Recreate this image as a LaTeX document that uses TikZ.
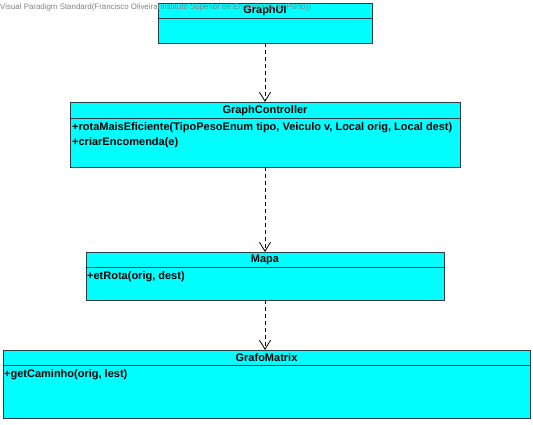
\documentclass[tikz,border=0pt]{standalone}
\usepackage{fontspec}
\setmainfont{Liberation Sans}
\usetikzlibrary{arrows.meta}
\definecolor{umlfill}{RGB}{0,255,255}
\definecolor{umlborder}{RGB}{45,60,70}
\definecolor{wmgray}{RGB}{130,130,130}
\begin{document}
\begin{tikzpicture}[x=1pt,y=-1pt,
  cls/.style={draw=umlborder, fill=umlfill, line width=1pt, anchor=north west, inner sep=0pt, outer sep=0pt},
  sep/.style={draw=umlborder, line width=1pt},
  title/.style={font=\fontsize{11}{13}\selectfont\bfseries, inner sep=0pt, anchor=center},
  meth/.style={font=\fontsize{11}{15}\selectfont\bfseries, inner sep=0pt, anchor=west, align=left},
  dep/.style={draw=black, line width=0.8pt, dash pattern=on 4pt off 3pt, -{Straight Barb[length=9pt,width=11pt,line width=0.8pt]}},
  wm/.style={font=\fontsize{7.9}{9}\selectfont, text=wmgray, inner sep=0pt, anchor=west}
]
\useasboundingbox (0,0) rectangle (533,424);
% classes
\node[cls, minimum width=214pt, minimum height=40pt] (ui) at (158,3) {};
\draw[sep] ([yshift=-15pt]ui.north west) -- ([yshift=-15pt]ui.north east);
\node[title] (uit) at ([yshift=-8pt]ui.north) {GraphUI};

\node[cls, minimum width=390pt, minimum height=65pt] (gc) at (70,102) {};
\draw[sep] ([yshift=-16pt]gc.north west) -- ([yshift=-16pt]gc.north east);
\node[title] (gct) at ([yshift=-8.5pt]gc.north) {GraphController};
\node[meth] (gcm1) at ([xshift=2pt,yshift=-26pt]gc.north west) {+rotaMaisEficiente(TipoPesoEnum tipo, Veiculo v, Local orig, Local dest)};
\node[meth] (gcm2) at ([xshift=2pt,yshift=-41pt]gc.north west) {+criarEncomenda(e)};

\node[cls, minimum width=358pt, minimum height=48pt] (mp) at (86,252) {};
\draw[sep] ([yshift=-15pt]mp.north west) -- ([yshift=-15pt]mp.north east);
\node[title] (mpt) at ([yshift=-8pt]mp.north) {Mapa};
\node[meth] (mpm) at ([xshift=1pt,yshift=-24.5pt]mp.north west) {+etRota(orig, dest)};

\node[cls, minimum width=527pt, minimum height=68pt] (gm) at (3,350) {};
\draw[sep] ([yshift=-15pt]gm.north west) -- ([yshift=-15pt]gm.north east);
\node[title] (gmt) at ([yshift=-8pt]gm.north) {GrafoMatrix};
\node[meth] (gmm) at ([xshift=1pt,yshift=-25pt]gm.north west) {+getCaminho(orig, lest)};

% dependencies
\draw[dep] (ui.south) -- (gc.north);
\draw[dep] (gc.south) -- (mp.north);
\draw[dep] ([xshift=-1.5pt]gm.north |- mp.south) -- ([xshift=-1.5pt]gm.north);

% watermark
\node[wm] (wmk) at (0,7.5) {Visual Paradigm Standard(Francisco Oliveira(Instituto Superior de Engenharia do Porto))};
\end{tikzpicture}
\end{document}
